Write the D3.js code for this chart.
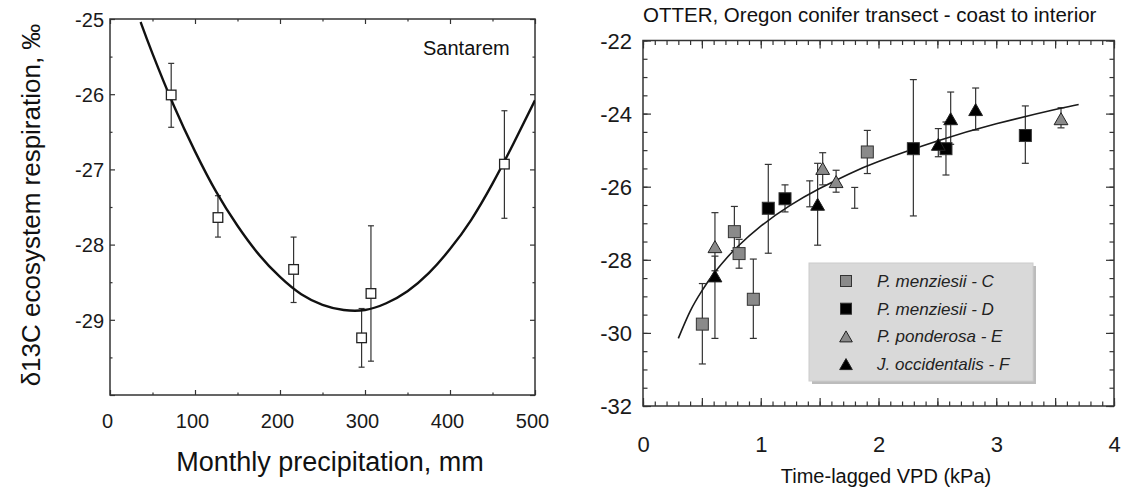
<!DOCTYPE html>
<html>
<head>
<meta charset="utf-8">
<script src="https://cdn.jsdelivr.net/npm/d3@7"></script>
<style>
  body { margin: 0; background: #fff; }
  svg { display: block; font-family: "Liberation Sans", Arial, Helvetica, sans-serif; }
  .frame { fill: none; stroke: #333; stroke-width: 1.5; }
  .tick line { stroke: #333; stroke-width: 1.2; }
  .tick text { fill: #1a1a1a; }
  .err { stroke: #333; stroke-width: 1.2; fill: none; }
</style>
</head>
<body>
<svg width="1123" height="488"></svg>
<script>
// DATA - left panel (Santarem)
const precip = [72, 127, 216, 296, 307, 464]
const respD13C = [-26.01, -27.64, -28.33, -29.24, -28.65, -26.93]
const respHigh = [-25.59, -27.35, -27.90, -28.85, -27.75, -26.22]
const respLow = [-26.44, -27.90, -28.77, -29.63, -29.55, -27.65]

const fitPrecip = [36, 50, 75, 100, 125, 150, 175, 200, 225, 250, 275, 300, 325, 350, 375, 400, 425, 450, 475, 500]
const fitD13C = [-25.04, -25.46, -26.15, -26.76, -27.30, -27.75, -28.13, -28.43, -28.66, -28.80, -28.87, -28.87, -28.78, -28.62, -28.38, -28.06, -27.67, -27.19, -26.65, -26.08]

const leftXTicks = [0, 100, 200, 300, 400, 500]
const leftYTicks = [-25, -26, -27, -28, -29]

// DATA - right panel (OTTER)
const seriesNames = ["P. menziesii - C", "P. menziesii - D", "P. ponderosa - E", "J. occidentalis - F"]

const menzCVpd = [0.504, 0.776, 0.816, 0.937, 1.905]
const menzCD13C = [-29.76, -27.23, -27.83, -29.08, -25.05]
const menzCHigh = [-28.65, -26.54, -27.44, -27.98, -24.46]
const menzCLow = [-30.85, -27.75, -28.23, -30.15, -25.64]

const menzDVpd = [1.064, 1.206, 2.296, 2.573, 3.247]
const menzDD13C = [-26.59, -26.33, -24.96, -24.96, -24.60]
const menzDHigh = [-25.39, -25.95, -23.07, -24.23, -23.79]
const menzDLow = [-27.82, -26.69, -26.80, -25.68, -25.36]

const pondVpd = [0.611, 1.526, 1.640, 3.550]
const pondD13C = [-27.64, -25.50, -25.86, -24.14]
const pondHigh = [-26.71, -25.07, -25.55, -23.84]
const pondLow = [-28.30, -25.95, -26.15, -24.39]

const juniVpd = [0.611, 1.483, 2.508, 2.613, 2.825]
const juniD13C = [-28.44, -26.48, -24.84, -24.14, -23.89]
const juniHigh = [-27.90, -25.36, -24.41, -23.41, -23.30]
const juniLow = [-30.15, -27.60, -25.18, -24.84, -24.45]

// error bars whose markers are not visible
const loneVpd = [1.416, 1.798]
const loneHigh = [-25.84, -26.02]
const loneLow = [-26.55, -26.59]

const fitVpd = [0.3, 0.4, 0.5, 0.6, 0.7, 0.8, 1.0, 1.25, 1.5, 1.75, 2.0, 2.5, 3.0, 3.5, 3.7]
const fitVpdD13C = [-30.15, -29.41, -28.85, -28.38, -27.99, -27.65, -27.08, -26.51, -26.05, -25.65, -25.31, -24.75, -24.28, -23.89, -23.75]

const rightXTicks = [0, 1, 2, 3, 4]
const rightYTicks = [-22, -24, -26, -28, -30, -32]

// SETUP
const svg = d3.select("svg")

const range = (a, b, step) => d3.range(a, b + step / 2, step).map(v => +v.toFixed(2))
const plain = (d) => String(d)   // keep the plain hyphen minus

// draws inward ticks on all four sides of a panel, labels on bottom and left
const drawTicks = function (xScale, yScale, opt) {
  const [x0, x1] = xScale.range()
  const [y0, y1] = yScale.range()

  const sides = [
    { axis: d3.axisBottom(xScale), at: `translate(0, ${y0})`, vals: opt.xMajor, minor: opt.xMinor },
    { axis: d3.axisTop(xScale), at: `translate(0, ${y1})`, vals: opt.xMajor, minor: opt.xMinor },
    { axis: d3.axisLeft(yScale), at: `translate(${x0}, 0)`, vals: opt.yMajor, minor: opt.yMinor },
    { axis: d3.axisRight(yScale), at: `translate(${x1}, 0)`, vals: opt.yMajor, minor: opt.yMinor }
  ]

  sides.forEach((s) => {
    const gMinor = svg.append("g").attr("transform", s.at)
    gMinor.call(s.axis.tickValues(s.minor).tickSizeInner(-opt.minorLen).tickSizeOuter(0).tickFormat(""))
    gMinor.select(".domain").remove()

    const gMajor = svg.append("g").attr("transform", s.at)
    gMajor.call(s.axis.tickValues(s.vals).tickSizeInner(-opt.majorLen).tickSizeOuter(0).tickFormat(""))
    gMajor.select(".domain").remove()
  })

  // x labels
  const gx = svg.append("g")
    .attr("transform", `translate(0, ${y0})`)
    .call(d3.axisBottom(xScale).tickValues(opt.xLabels).tickSize(0).tickFormat(plain))
  gx.select(".domain").remove()
  gx.attr("font-size", opt.fontSize).attr("font-family", null)
  gx.selectAll("text")
    .attr("y", opt.xLabelY)
    .attr("dy", null)
    .attr("dx", opt.xLabelDx)

  // y labels
  const gy = svg.append("g")
    .attr("transform", `translate(${x0}, 0)`)
    .call(d3.axisLeft(yScale).tickValues(opt.yLabels).tickSize(0).tickPadding(opt.yPad).tickFormat(plain))
  gy.select(".domain").remove()
  gy.attr("font-size", opt.fontSize).attr("font-family", null)
  gy.selectAll("text").attr("dy", "0.36em")

  svg.append("rect")
    .attr("class", "frame")
    .attr("x", x0)
    .attr("y", y1)
    .attr("width", x1 - x0)
    .attr("height", y0 - y1)
}

const drawErrors = function (xs, lows, highs, xScale, yScale, cap) {
  const g = svg.append("g").attr("class", "err")
  xs.forEach((x, i) => {
    const px = xScale(x)
    const lo = yScale(lows[i])
    const hi = yScale(highs[i])
    g.append("line").attr("x1", px).attr("x2", px).attr("y1", lo).attr("y2", hi)
    g.append("line").attr("x1", px - cap).attr("x2", px + cap).attr("y1", lo).attr("y2", lo)
    g.append("line").attr("x1", px - cap).attr("x2", px + cap).attr("y1", hi).attr("y2", hi)
  })
}

const triangle = (w, h) => `M0,${-h / 2}L${w / 2},${h / 2}L${-w / 2},${h / 2}Z`

// LEFT PANEL
const xL = d3.scaleLinear()
  .domain([0, 500])
  .range([110, 535])

const yL = d3.scaleLinear()
  .domain([-30, -25])
  .range([395, 19])

svg.append("clipPath")
  .attr("id", "clipL")
  .append("rect")
  .attr("x", 110).attr("y", 19).attr("width", 425).attr("height", 376)

drawTicks(xL, yL, {
  xMajor: range(0, 500, 100),
  xMinor: range(50, 450, 100),
  yMajor: range(-30, -25, 1),
  yMinor: range(-29.5, -25.5, 1),
  xLabels: leftXTicks,
  yLabels: leftYTicks,
  majorLen: 5,
  minorLen: 2.5,
  fontSize: 20,
  yPad: 6,
  xLabelY: 33,
  xLabelDx: -3
})

drawErrors(precip, respLow, respHigh, xL, yL, 3)

svg.append("path")
  .datum(fitPrecip.map((x, i) => [x, fitD13C[i]]))
  .attr("clip-path", "url(#clipL)")
  .attr("fill", "none")
  .attr("stroke", "#111")
  .attr("stroke-width", 2.4)
  .attr("d", d3.line().x(d => xL(d[0])).y(d => yL(d[1])).curve(d3.curveNatural))

svg.append("g")
  .selectAll("rect")
  .data(precip)
  .enter()
    .append("rect")
  .attr("x", (d) => xL(d) - 4.8)
  .attr("y", (d, i) => yL(respD13C[i]) - 4.8)
  .attr("width", 9.6)
  .attr("height", 9.6)
  .attr("fill", "#fff")
  .attr("stroke", "#222")
  .attr("stroke-width", 1.3)

svg.append("text")
  .attr("x", 423)
  .attr("y", 55)
  .attr("font-size", 20)
  .attr("fill", "#111")
  .text("Santarem")

svg.append("text")
  .attr("transform", "translate(40, 205) rotate(-90)")
  .attr("text-anchor", "middle")
  .attr("font-size", 26)
  .attr("fill", "#111")
  .text("δ13C ecosystem respiration, ‰")

svg.append("text")
  .attr("x", 330)
  .attr("y", 471)
  .attr("text-anchor", "middle")
  .attr("font-size", 27)
  .attr("fill", "#111")
  .text("Monthly precipitation, mm")

// RIGHT PANEL
const xR = d3.scaleLinear()
  .domain([0, 4])
  .range([643, 1114])

const yR = d3.scaleLinear()
  .domain([-32, -22])
  .range([406, 40.5])

drawTicks(xR, yR, {
  xMajor: range(0, 4, 0.5),
  xMinor: range(0, 4, 0.1),
  yMajor: range(-32, -22, 2),
  yMinor: range(-32, -22, 0.5),
  xLabels: rightXTicks,
  yLabels: rightYTicks,
  majorLen: 8,
  minorLen: 4.5,
  fontSize: 22,
  yPad: 11,
  xLabelY: 46,
  xLabelDx: 0
})

drawErrors(menzCVpd, menzCLow, menzCHigh, xR, yR, 3.5)
drawErrors(menzDVpd, menzDLow, menzDHigh, xR, yR, 3.5)
drawErrors(pondVpd, pondLow, pondHigh, xR, yR, 3.5)
drawErrors(juniVpd, juniLow, juniHigh, xR, yR, 3.5)
drawErrors(loneVpd, loneLow, loneHigh, xR, yR, 3.5)

svg.append("path")
  .datum(fitVpd.map((x, i) => [x, fitVpdD13C[i]]))
  .attr("fill", "none")
  .attr("stroke", "#1a1a1a")
  .attr("stroke-width", 1.6)
  .attr("d", d3.line().x(d => xR(d[0])).y(d => yR(d[1])).curve(d3.curveNatural))

const series = [
  { xs: menzCVpd, ys: menzCD13C, shape: "square", fill: "#8a8a8a" },
  { xs: menzDVpd, ys: menzDD13C, shape: "square", fill: "#000" },
  { xs: pondVpd, ys: pondD13C, shape: "triangle", fill: "#8a8a8a" },
  { xs: juniVpd, ys: juniD13C, shape: "triangle", fill: "#000" }
]

const marker = function (sel, shape, fill, size) {
  if (shape === "square") {
    sel.append("rect")
      .attr("x", -size / 2)
      .attr("y", -size / 2)
      .attr("width", size)
      .attr("height", size)
      .attr("fill", fill)
      .attr("stroke", "#333")
      .attr("stroke-width", 1)
  } else {
    sel.append("path")
      .attr("d", triangle(size * 1.15, size))
      .attr("fill", fill)
      .attr("stroke", "#222")
      .attr("stroke-width", 1)
  }
}

series.forEach((s) => {
  const pts = svg.append("g")
    .selectAll("g.pt")
    .data(s.xs)
    .enter()
      .append("g")
    .attr("class", "pt")
    .attr("transform", (d, i) => `translate(${xR(d)}, ${yR(s.ys[i])})`)
  marker(pts, s.shape, s.fill, 12)
})

// LEGEND
const legend = svg.append("g")
  .attr("transform", "translate(809, 263)")

legend.append("rect")
  .attr("x", 3)
  .attr("y", 3)
  .attr("width", 224)
  .attr("height", 118)
  .attr("fill", "#bcbcbc")

legend.append("rect")
  .attr("width", 224)
  .attr("height", 118)
  .attr("fill", "#d9d9d9")
  .attr("stroke", "#cccccc")

const rows = legend.selectAll("g.row")
  .data(series)
  .enter()
    .append("g")
  .attr("class", "row")
  .attr("transform", (d, i) => `translate(37, ${18 + i * 27.7})`)

rows.each(function (d) {
  marker(d3.select(this), d.shape, d.fill, 11)
})

rows.append("text")
  .attr("x", 31)
  .attr("dy", "0.35em")
  .attr("font-size", 17)
  .attr("font-style", "italic")
  .attr("fill", "#222")
  .text((d, i) => seriesNames[i])

svg.append("text")
  .attr("x", 643)
  .attr("y", 22)
  .attr("font-size", 20.5)
  .attr("fill", "#111")
  .text("OTTER, Oregon conifer transect - coast to interior")

svg.append("text")
  .attr("x", 886)
  .attr("y", 483)
  .attr("text-anchor", "middle")
  .attr("font-size", 20)
  .attr("fill", "#111")
  .text("Time-lagged VPD (kPa)")
</script>
</body>
</html>
